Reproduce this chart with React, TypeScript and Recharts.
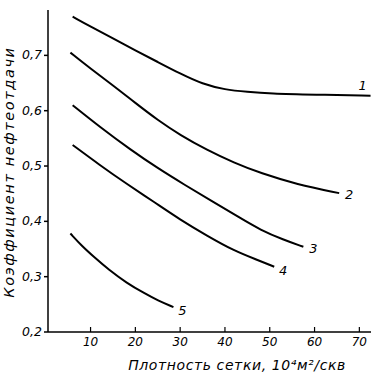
import { LineChart, Line, XAxis, YAxis } from 'recharts';

const xTicks = [10, 20, 30, 40, 50, 60, 70];
const yTicks = [0.2, 0.3, 0.4, 0.5, 0.6, 0.7];

const curve1 = [
  { x: 6, y: 0.77 }, { x: 10, y: 0.752 }, { x: 15, y: 0.731 }, { x: 20, y: 0.709 },
  { x: 25, y: 0.688 }, { x: 30, y: 0.667 }, { x: 35, y: 0.648 }, { x: 40, y: 0.638 },
  { x: 45, y: 0.634 }, { x: 50, y: 0.631 }, { x: 60, y: 0.629 }, { x: 72.5, y: 0.627 },
];
const curve2 = [
  { x: 5.5, y: 0.705 }, { x: 10, y: 0.676 }, { x: 15, y: 0.646 }, { x: 20, y: 0.614 },
  { x: 25, y: 0.583 }, { x: 30, y: 0.556 }, { x: 36, y: 0.529 }, { x: 42, y: 0.506 },
  { x: 48, y: 0.487 }, { x: 56, y: 0.467 }, { x: 65.5, y: 0.451 },
];
const curve3 = [
  { x: 6, y: 0.61 }, { x: 12, y: 0.571 }, { x: 19, y: 0.529 }, { x: 25, y: 0.496 },
  { x: 31, y: 0.466 }, { x: 37, y: 0.437 }, { x: 43, y: 0.408 }, { x: 48, y: 0.384 },
  { x: 53, y: 0.367 }, { x: 57.5, y: 0.354 },
];
const curve4 = [
  { x: 6, y: 0.538 }, { x: 12, y: 0.502 }, { x: 18, y: 0.468 }, { x: 24, y: 0.436 },
  { x: 30, y: 0.403 }, { x: 36, y: 0.374 }, { x: 42, y: 0.347 }, { x: 47, y: 0.331 },
  { x: 51, y: 0.318 },
];
const curve5 = [
  { x: 5.5, y: 0.378 }, { x: 8, y: 0.356 }, { x: 11, y: 0.334 }, { x: 14, y: 0.313 },
  { x: 18, y: 0.289 }, { x: 22, y: 0.27 }, { x: 25, y: 0.257 }, { x: 28.5, y: 0.245 },
];

const curves = [
  { name: '1', data: curve1, dx: -8, dy: -6 },
  { name: '2', data: curve2, dx: 10, dy: 6 },
  { name: '3', data: curve3, dx: 10, dy: 6 },
  { name: '4', data: curve4, dx: 9, dy: 8 },
  { name: '5', data: curve5, dx: 9, dy: 8 },
];

const font = '"DejaVu Sans", sans-serif';

function XTick(props: any) {
  const { x, y, payload } = props;
  return (
    <g>
      <line x1={x} x2={x} y1={y} y2={y - 5} stroke="#000" strokeWidth={1.2} />
      <text x={x} y={y + 14} textAnchor="middle" fontSize={12} fontStyle="italic" fontFamily={font} fill="#000">
        {payload.value}
      </text>
    </g>
  );
}

function YTick(props: any) {
  const { x, y, payload } = props;
  return (
    <text x={x} y={y + 4} textAnchor="end" fontSize={12.5} fontStyle="italic" fontFamily={font} fill="#000">
      {payload.value.toFixed(1).replace('.', ',')}
    </text>
  );
}

function endLabel(name: string, len: number, dx: number, dy: number) {
  return (p: any) => {
    if (p.index !== len - 1) return null;
    return (
      <text key={name} x={p.x + dx} y={p.y + dy} textAnchor="middle" fontSize={13} fontStyle="italic" fontFamily={font} fill="#000">
        {name}
      </text>
    );
  };
}

export default function App() {
  return (
    <div style={{ position: 'absolute', left: 0, top: 0, background: '#fff' }}>
      <LineChart width={376} height={375} margin={{ top: 10, right: 5, bottom: 13, left: 8 }}>
        <XAxis
          type="number"
          dataKey="x"
          domain={[0.5, 72.6]}
          ticks={xTicks}
          tick={<XTick />}
          tickSize={0}
          tickMargin={0}
          tickLine={false}
          height={30}
          stroke="#000"
          strokeWidth={1.5}
          allowDuplicatedCategory={false}
        />
        <YAxis
          type="number"
          domain={[0.2, 0.782]}
          ticks={yTicks}
          tick={<YTick />}
          tickSize={4}
          width={40}
          stroke="#000"
          strokeWidth={1.5}
        />
        {curves.map((c) => (
          <Line
            key={c.name}
            data={c.data}
            dataKey="y"
            type="basis"
            stroke="#000"
            strokeWidth={2}
            dot={false}
            label={endLabel(c.name, c.data.length, c.dx, c.dy)}
            isAnimationActive={false}
          />
        ))}
        <text x={14} y={172} transform="rotate(-90 14 172)" textAnchor="middle" fontSize={14.5} fontStyle="italic" fontFamily={font} letterSpacing={1.6} fill="#000">
          Коэффициент нефтеотдачи
        </text>
        <text x={237} y={370} textAnchor="middle" fontSize={14} fontStyle="italic" fontFamily={font} letterSpacing={0.6} fill="#000">
          Плотность сетки, 10⁴м²/скв
        </text>
      </LineChart>
    </div>
  );
}
